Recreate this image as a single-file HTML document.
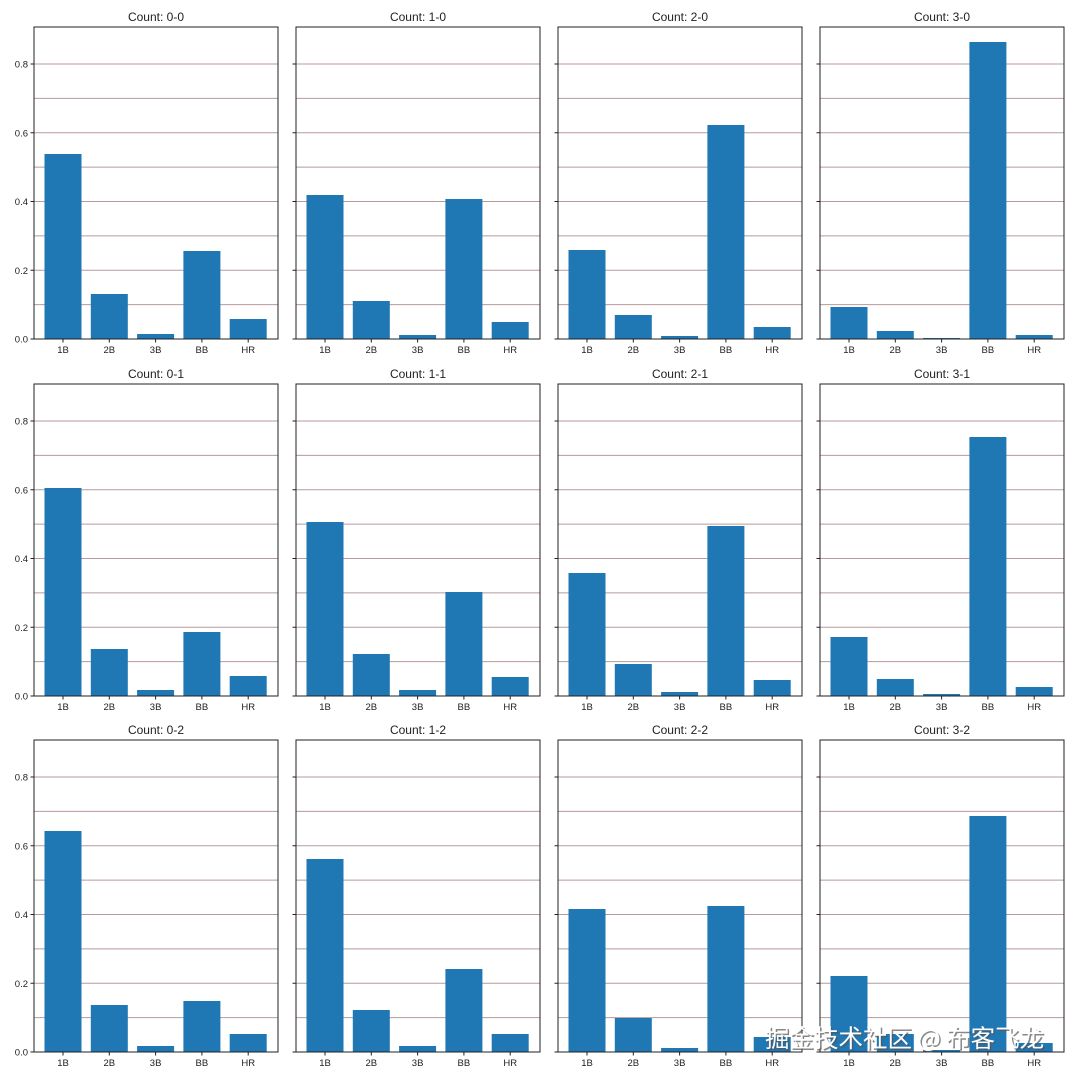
<!DOCTYPE html>
<html><head><meta charset="utf-8"><style>
html,body{margin:0;padding:0;background:#fff;width:1080px;height:1080px;overflow:hidden}
svg{display:block}
text{font-family:"Liberation Sans","DejaVu Sans",sans-serif;fill:#222}
.t{font-size:12px;text-anchor:middle}
.x{font-size:9.5px;text-anchor:middle}
.y{font-size:9.5px;text-anchor:end}
.b{fill:#1f77b4}
</style></head><body>
<svg width="1080" height="1080" viewBox="0 0 1080 1080" xmlns="http://www.w3.org/2000/svg">
<defs>
<g id="grid" stroke="#b89a9c" stroke-width="1">
<line x1="0" x2="244" y1="277.6" y2="277.6"/><line x1="0" x2="244" y1="243.25" y2="243.25"/>
<line x1="0" x2="244" y1="208.9" y2="208.9"/><line x1="0" x2="244" y1="174.5" y2="174.5"/>
<line x1="0" x2="244" y1="140.1" y2="140.1"/><line x1="0" x2="244" y1="105.75" y2="105.75"/>
<line x1="0" x2="244" y1="71.4" y2="71.4"/><line x1="0" x2="244" y1="37" y2="37"/>
</g>
<g id="frame" fill="none" stroke="#222" stroke-width="1">
<rect x="0" y="0" width="244" height="312"/>
<path d="M0 312h-3.5M0 243.25h-3.5M0 174.5h-3.5M0 105.75h-3.5M0 37h-3.5M29 312v3.5M75.3 312v3.5M121.6 312v3.5M167.9 312v3.5M214.2 312v3.5"/>
</g>
</defs>

<g transform="translate(34,27)">
<use href="#grid"/>
<rect class="b" x="10.5" y="127" width="37" height="185"/><rect class="b" x="56.8" y="267" width="37" height="45"/><rect class="b" x="103.1" y="307" width="37" height="5"/><rect class="b" x="149.4" y="224" width="37" height="88"/><rect class="b" x="195.7" y="292" width="37" height="20"/>
<use href="#frame"/>
<text class="t" x="122" y="-6">Count: 0-0</text>
<text class="y" x="-6" y="315.5">0.0</text><text class="y" x="-6" y="246.75">0.2</text><text class="y" x="-6" y="178">0.4</text><text class="y" x="-6" y="109.25">0.6</text><text class="y" x="-6" y="40.5">0.8</text>
<text class="x" x="29" y="326">1B</text><text class="x" x="75.3" y="326">2B</text><text class="x" x="121.6" y="326">3B</text><text class="x" x="167.9" y="326">BB</text><text class="x" x="214.2" y="326">HR</text>
</g>
<g transform="translate(296,27)">
<use href="#grid"/>
<rect class="b" x="10.5" y="168" width="37" height="144"/><rect class="b" x="56.8" y="274" width="37" height="38"/><rect class="b" x="103.1" y="308" width="37" height="4"/><rect class="b" x="149.4" y="172" width="37" height="140"/><rect class="b" x="195.7" y="295" width="37" height="17"/>
<use href="#frame"/>
<text class="t" x="122" y="-6">Count: 1-0</text>
<text class="x" x="29" y="326">1B</text><text class="x" x="75.3" y="326">2B</text><text class="x" x="121.6" y="326">3B</text><text class="x" x="167.9" y="326">BB</text><text class="x" x="214.2" y="326">HR</text>
</g>
<g transform="translate(558,27)">
<use href="#grid"/>
<rect class="b" x="10.5" y="223" width="37" height="89"/><rect class="b" x="56.8" y="288" width="37" height="24"/><rect class="b" x="103.1" y="309" width="37" height="3"/><rect class="b" x="149.4" y="98" width="37" height="214"/><rect class="b" x="195.7" y="300" width="37" height="12"/>
<use href="#frame"/>
<text class="t" x="122" y="-6">Count: 2-0</text>
<text class="x" x="29" y="326">1B</text><text class="x" x="75.3" y="326">2B</text><text class="x" x="121.6" y="326">3B</text><text class="x" x="167.9" y="326">BB</text><text class="x" x="214.2" y="326">HR</text>
</g>
<g transform="translate(820,27)">
<use href="#grid"/>
<rect class="b" x="10.5" y="280" width="37" height="32"/><rect class="b" x="56.8" y="304" width="37" height="8"/><rect class="b" x="103.1" y="311" width="37" height="1"/><rect class="b" x="149.4" y="15" width="37" height="297"/><rect class="b" x="195.7" y="308" width="37" height="4"/>
<use href="#frame"/>
<text class="t" x="122" y="-6">Count: 3-0</text>
<text class="x" x="29" y="326">1B</text><text class="x" x="75.3" y="326">2B</text><text class="x" x="121.6" y="326">3B</text><text class="x" x="167.9" y="326">BB</text><text class="x" x="214.2" y="326">HR</text>
</g>

<g transform="translate(34,384)">
<use href="#grid"/>
<rect class="b" x="10.5" y="104" width="37" height="208"/><rect class="b" x="56.8" y="265" width="37" height="47"/><rect class="b" x="103.1" y="306" width="37" height="6"/><rect class="b" x="149.4" y="248" width="37" height="64"/><rect class="b" x="195.7" y="292" width="37" height="20"/>
<use href="#frame"/>
<text class="t" x="122" y="-6">Count: 0-1</text>
<text class="y" x="-6" y="315.5">0.0</text><text class="y" x="-6" y="246.75">0.2</text><text class="y" x="-6" y="178">0.4</text><text class="y" x="-6" y="109.25">0.6</text><text class="y" x="-6" y="40.5">0.8</text>
<text class="x" x="29" y="326">1B</text><text class="x" x="75.3" y="326">2B</text><text class="x" x="121.6" y="326">3B</text><text class="x" x="167.9" y="326">BB</text><text class="x" x="214.2" y="326">HR</text>
</g>
<g transform="translate(296,384)">
<use href="#grid"/>
<rect class="b" x="10.5" y="138" width="37" height="174"/><rect class="b" x="56.8" y="270" width="37" height="42"/><rect class="b" x="103.1" y="306" width="37" height="6"/><rect class="b" x="149.4" y="208" width="37" height="104"/><rect class="b" x="195.7" y="293" width="37" height="19"/>
<use href="#frame"/>
<text class="t" x="122" y="-6">Count: 1-1</text>
<text class="x" x="29" y="326">1B</text><text class="x" x="75.3" y="326">2B</text><text class="x" x="121.6" y="326">3B</text><text class="x" x="167.9" y="326">BB</text><text class="x" x="214.2" y="326">HR</text>
</g>
<g transform="translate(558,384)">
<use href="#grid"/>
<rect class="b" x="10.5" y="189" width="37" height="123"/><rect class="b" x="56.8" y="280" width="37" height="32"/><rect class="b" x="103.1" y="308" width="37" height="4"/><rect class="b" x="149.4" y="142" width="37" height="170"/><rect class="b" x="195.7" y="296" width="37" height="16"/>
<use href="#frame"/>
<text class="t" x="122" y="-6">Count: 2-1</text>
<text class="x" x="29" y="326">1B</text><text class="x" x="75.3" y="326">2B</text><text class="x" x="121.6" y="326">3B</text><text class="x" x="167.9" y="326">BB</text><text class="x" x="214.2" y="326">HR</text>
</g>
<g transform="translate(820,384)">
<use href="#grid"/>
<rect class="b" x="10.5" y="253" width="37" height="59"/><rect class="b" x="56.8" y="295" width="37" height="17"/><rect class="b" x="103.1" y="310" width="37" height="2"/><rect class="b" x="149.4" y="53" width="37" height="259"/><rect class="b" x="195.7" y="303" width="37" height="9"/>
<use href="#frame"/>
<text class="t" x="122" y="-6">Count: 3-1</text>
<text class="x" x="29" y="326">1B</text><text class="x" x="75.3" y="326">2B</text><text class="x" x="121.6" y="326">3B</text><text class="x" x="167.9" y="326">BB</text><text class="x" x="214.2" y="326">HR</text>
</g>

<g transform="translate(34,740)">
<use href="#grid"/>
<rect class="b" x="10.5" y="91" width="37" height="221"/><rect class="b" x="56.8" y="265" width="37" height="47"/><rect class="b" x="103.1" y="306" width="37" height="6"/><rect class="b" x="149.4" y="261" width="37" height="51"/><rect class="b" x="195.7" y="294" width="37" height="18"/>
<use href="#frame"/>
<text class="t" x="122" y="-6">Count: 0-2</text>
<text class="y" x="-6" y="315.5">0.0</text><text class="y" x="-6" y="246.75">0.2</text><text class="y" x="-6" y="178">0.4</text><text class="y" x="-6" y="109.25">0.6</text><text class="y" x="-6" y="40.5">0.8</text>
<text class="x" x="29" y="326">1B</text><text class="x" x="75.3" y="326">2B</text><text class="x" x="121.6" y="326">3B</text><text class="x" x="167.9" y="326">BB</text><text class="x" x="214.2" y="326">HR</text>
</g>
<g transform="translate(296,740)">
<use href="#grid"/>
<rect class="b" x="10.5" y="119" width="37" height="193"/><rect class="b" x="56.8" y="270" width="37" height="42"/><rect class="b" x="103.1" y="306" width="37" height="6"/><rect class="b" x="149.4" y="229" width="37" height="83"/><rect class="b" x="195.7" y="294" width="37" height="18"/>
<use href="#frame"/>
<text class="t" x="122" y="-6">Count: 1-2</text>
<text class="x" x="29" y="326">1B</text><text class="x" x="75.3" y="326">2B</text><text class="x" x="121.6" y="326">3B</text><text class="x" x="167.9" y="326">BB</text><text class="x" x="214.2" y="326">HR</text>
</g>
<g transform="translate(558,740)">
<use href="#grid"/>
<rect class="b" x="10.5" y="169" width="37" height="143"/><rect class="b" x="56.8" y="278" width="37" height="34"/><rect class="b" x="103.1" y="308" width="37" height="4"/><rect class="b" x="149.4" y="166" width="37" height="146"/><rect class="b" x="195.7" y="297" width="37" height="15"/>
<use href="#frame"/>
<text class="t" x="122" y="-6">Count: 2-2</text>
<text class="x" x="29" y="326">1B</text><text class="x" x="75.3" y="326">2B</text><text class="x" x="121.6" y="326">3B</text><text class="x" x="167.9" y="326">BB</text><text class="x" x="214.2" y="326">HR</text>
</g>
<g transform="translate(820,740)">
<use href="#grid"/>
<rect class="b" x="10.5" y="236" width="37" height="76"/><rect class="b" x="56.8" y="294" width="37" height="18"/><rect class="b" x="103.1" y="310" width="37" height="2"/><rect class="b" x="149.4" y="76" width="37" height="236"/><rect class="b" x="195.7" y="303" width="37" height="9"/>
<use href="#frame"/>
<text class="t" x="122" y="-6">Count: 3-2</text>
<text class="x" x="29" y="326">1B</text><text class="x" x="75.3" y="326">2B</text><text class="x" x="121.6" y="326">3B</text><text class="x" x="167.9" y="326">BB</text><text class="x" x="214.2" y="326">HR</text>
</g>

<text x="765" y="1047" style="font-family:'Noto Sans CJK SC','Liberation Sans',sans-serif;font-size:24.5px;fill:#555;opacity:0.7" transform="translate(1.5,1.5)">掘金技术社区 @ 布客飞龙</text>
<text x="765" y="1047" style="font-family:'Noto Sans CJK SC','Liberation Sans',sans-serif;font-size:24.5px;fill:#fff">掘金技术社区 @ 布客飞龙</text>
</svg>
</body></html>
